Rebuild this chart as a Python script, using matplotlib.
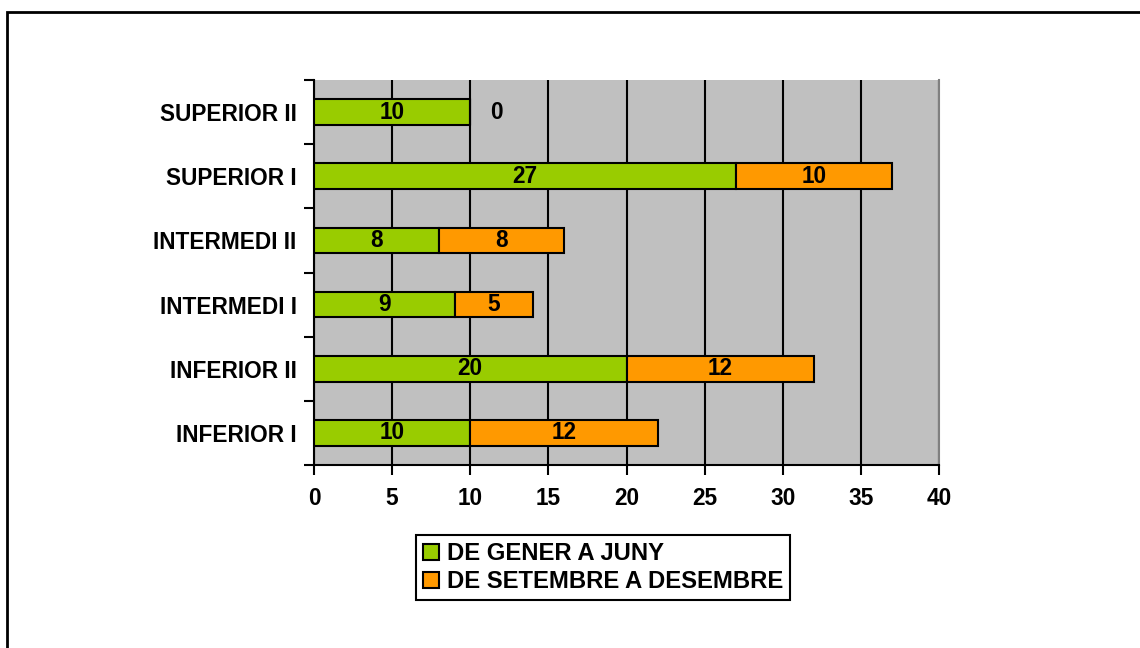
import numpy as np
import matplotlib.pyplot as plt
from matplotlib.patches import Rectangle

categories = ["INFERIOR I", "INFERIOR II", "INTERMEDI I", "INTERMEDI II", "SUPERIOR I", "SUPERIOR II"]
gener_juny = [10, 20, 9, 8, 27, 10]
setembre_desembre = [12, 12, 5, 8, 10, 0]
series_names = ["DE GENER A JUNY", "DE SETEMBRE A DESEMBRE"]
x_ticks = [0, 5, 10, 15, 20, 25, 30, 35, 40]

plt.rcParams["font.family"] = ["Liberation Sans", "DejaVu Sans"]
plt.rcParams["font.weight"] = "bold"
FS = 16.3

fig = plt.figure(figsize=(11.4, 6.48), dpi=100)
fig.patches.append(Rectangle((7 / 1140, -0.05), 1.2, 1 - 12 / 648 + 0.05,
                             transform=fig.transFigure, fill=False,
                             edgecolor="black", linewidth=2))

ax = fig.add_axes([314 / 1140, 1 - 465 / 648, 625 / 1140, 385 / 648])
ax.set_facecolor("#C0C0C0")

y = np.arange(len(categories))
h = 0.4
b1 = ax.barh(y, gener_juny, height=h, color="#99CC00", edgecolor="black", linewidth=1.5, zorder=3)
b2 = ax.barh(y, setembre_desembre, left=gener_juny, height=h, color="#FF9900",
             edgecolor="black", linewidth=1.5, zorder=3)

for bars, vals in ((b1, gener_juny), (b2, setembre_desembre)):
    for rect, v in zip(bars, vals):
        cx = rect.get_x() + rect.get_width() / 2
        cy = rect.get_y() + rect.get_height() / 2
        if v == 0:
            ax.annotate(str(v), (cx, cy), xytext=(19, 0), textcoords="offset points",
                        ha="center", va="center", fontsize=FS, fontweight="bold", zorder=4)
        else:
            ax.text(cx, cy, str(v), ha="center", va="center", fontsize=FS,
                    fontweight="bold", zorder=4)

ax.set_xlim(0, 40)
ax.set_ylim(-0.5, len(categories) - 0.5)
ax.set_xticks(x_ticks)
ax.set_xticklabels([str(t) for t in x_ticks], fontsize=FS, fontweight="bold")
ax.set_yticks(y)
ax.set_yticklabels(categories, fontsize=FS, fontweight="bold")
ax.set_yticks(np.arange(len(categories) + 1) - 0.5, minor=True)
ax.tick_params(axis="y", which="major", length=0, pad=12.5)
ax.tick_params(axis="y", which="minor", length=7, width=1.5, direction="out")
ax.tick_params(axis="x", which="major", length=7, width=1.5, direction="out", pad=9)

ax.xaxis.grid(True, color="black", linewidth=1.5, zorder=1)
ax.set_axisbelow(True)
ax.spines["top"].set_visible(False)
ax.spines["right"].set_color("#808080")
ax.spines["right"].set_linewidth(1.5)
ax.spines["left"].set_linewidth(1.5)
ax.spines["bottom"].set_linewidth(1.5)

leg = fig.legend([b1, b2], series_names, loc="upper left",
                 bbox_to_anchor=(416 / 1140, 1 - 535 / 648), borderaxespad=0,
                 prop={"size": 17.2, "weight": "bold"}, handlelength=0.65, handleheight=0.65,
                 handletextpad=0.35, labelspacing=0.2, borderpad=0.3, fancybox=False,
                 framealpha=1, edgecolor="black")
leg.get_frame().set_linewidth(1.5)
for p in leg.get_patches():
    p.set_linewidth(1.5)

fig.savefig("out.png", dpi=100)
